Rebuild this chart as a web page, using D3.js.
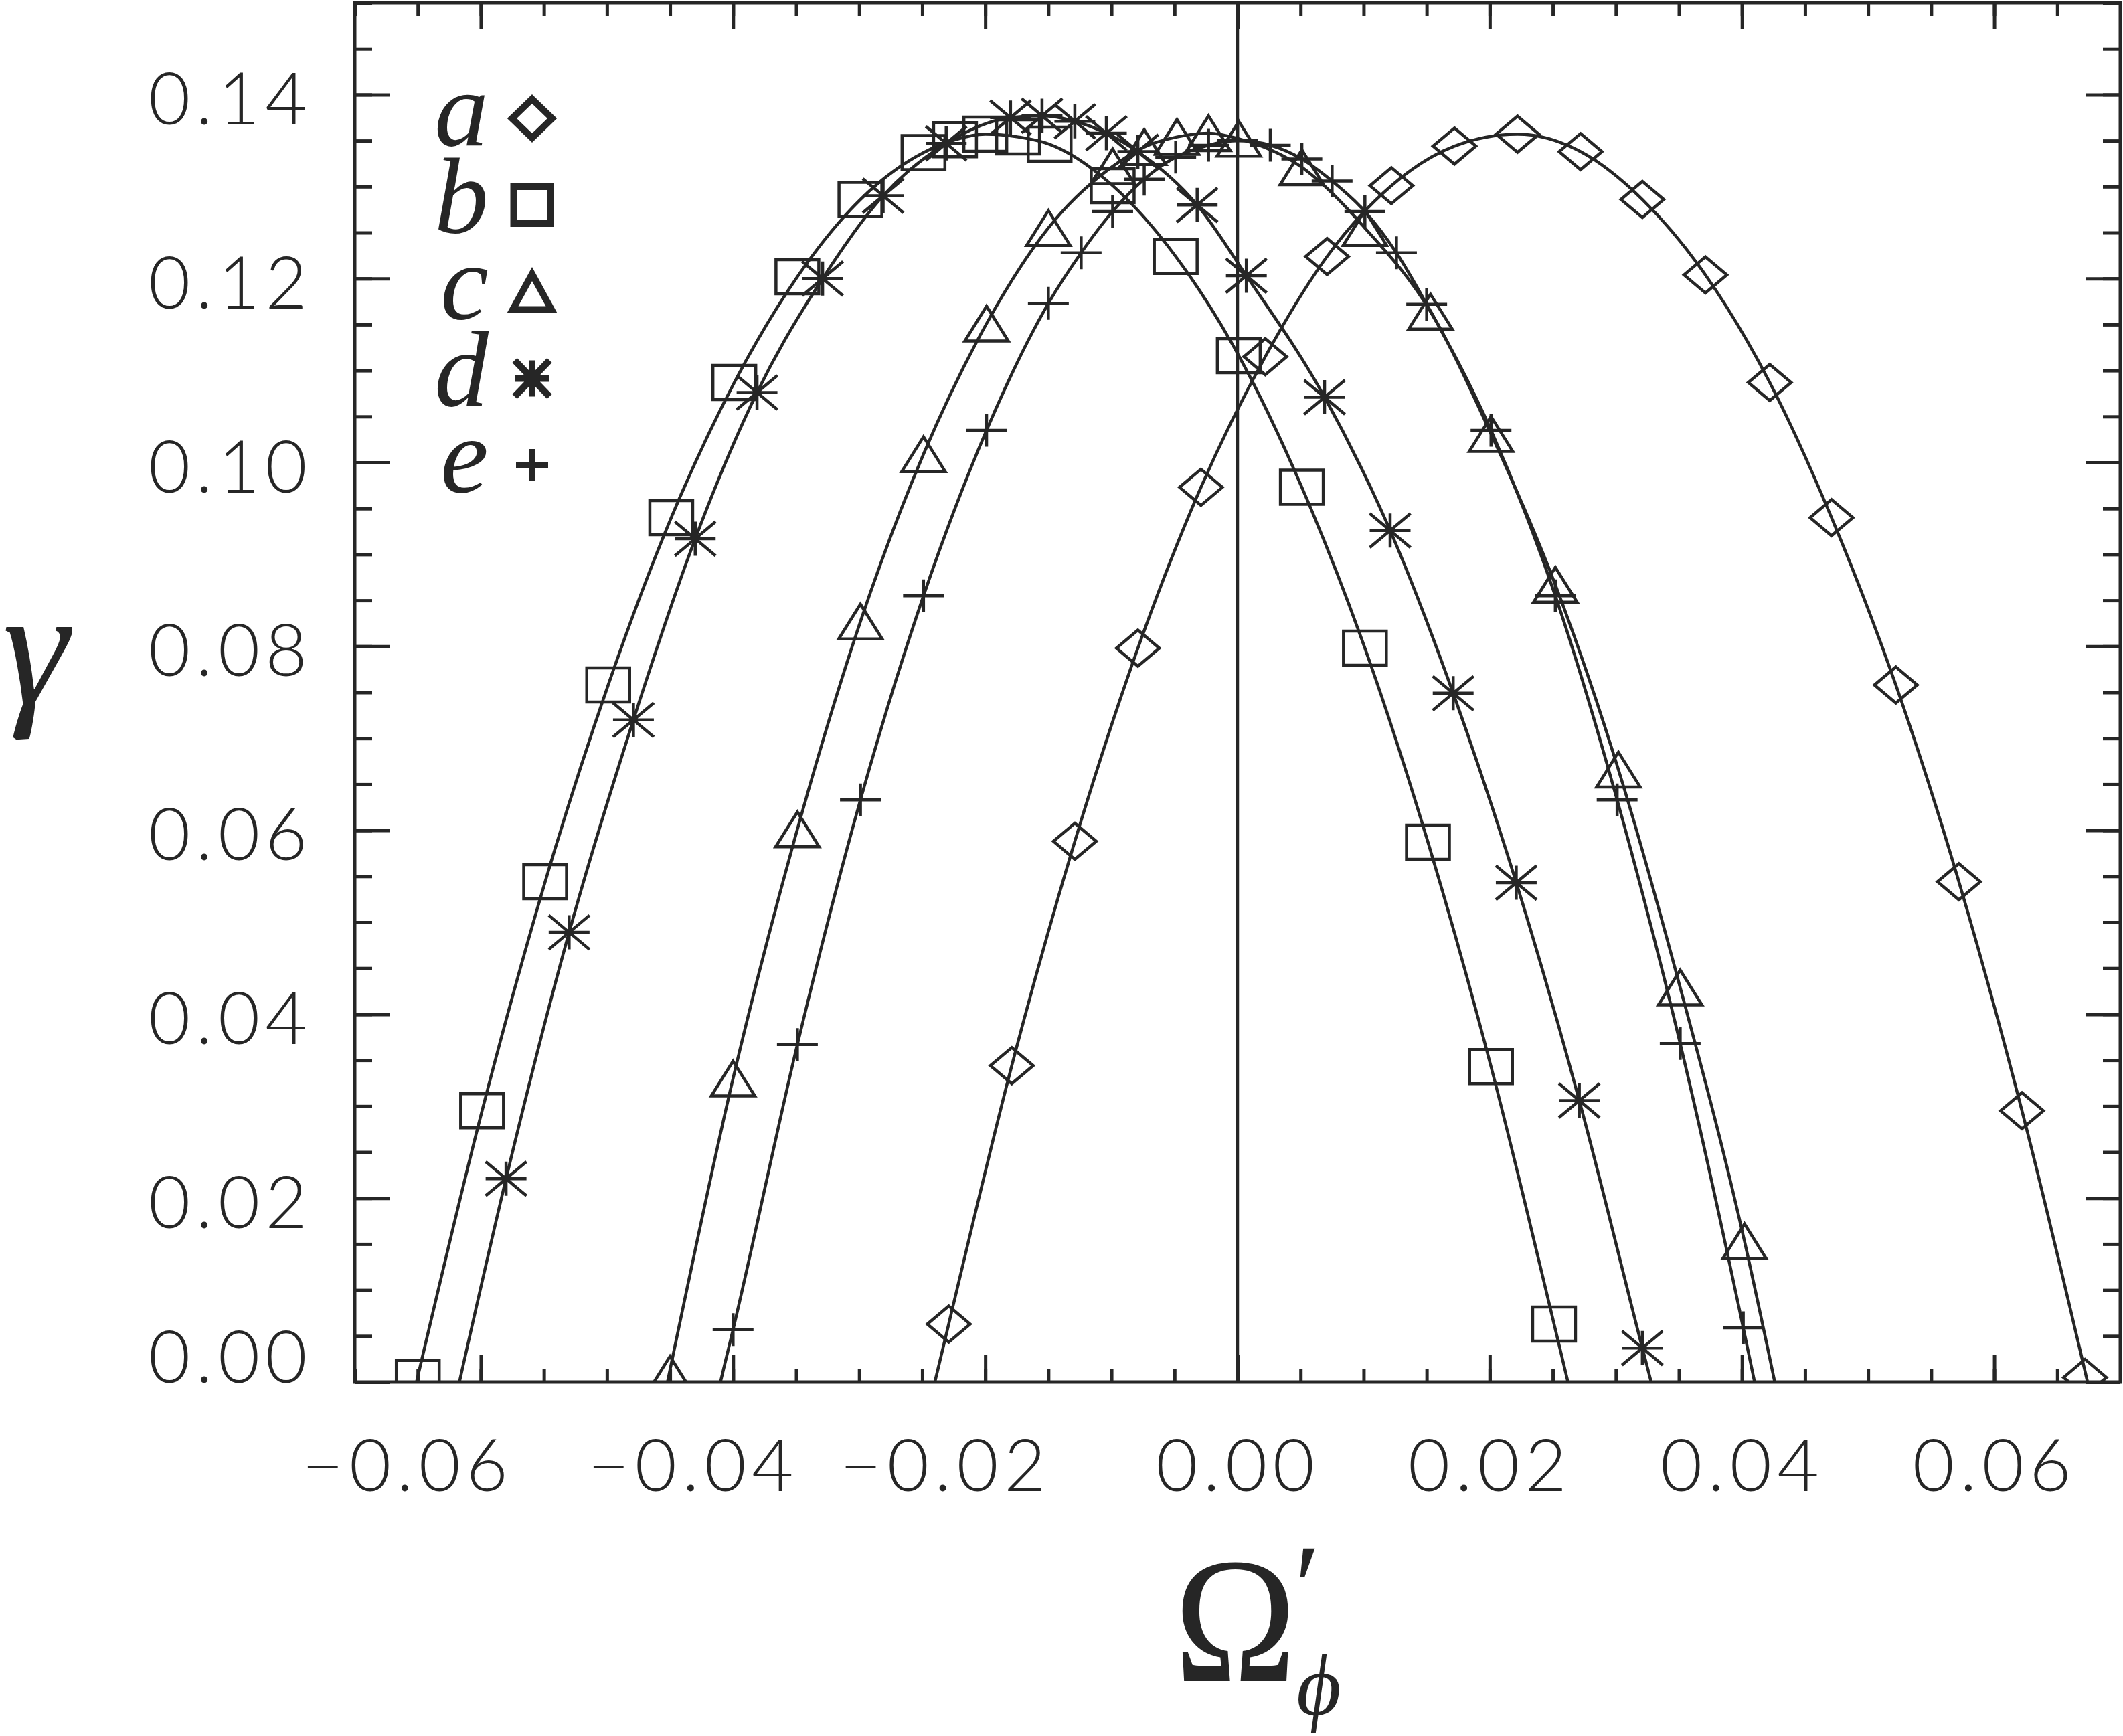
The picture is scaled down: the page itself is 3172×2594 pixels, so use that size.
<!DOCTYPE html>
<html><head><meta charset="utf-8">
<script src="https://cdnjs.cloudflare.com/ajax/libs/d3/7.8.5/d3.min.js"></script>
<style>html,body{margin:0;padding:0;background:#fff;} svg{display:block}
.serif{font-family:"Liberation Serif","Times New Roman",Times,"DejaVu Serif",serif;}
</style>
</head><body>
<svg id="chart" width="3172" height="2594"></svg>
<script>
// ---------------- data ----------------
const seriesNames = ["a", "b", "c", "d", "e"];
const seriesSymbols = ["diamond", "square", "triangle", "asterisk", "plus"];

const aX = [-0.0229, -0.0179, -0.0129, -0.0079, -0.0029, 0.0022, 0.0071, 0.0122, 0.0172, 0.0222, 0.0272, 0.0321, 0.0371, 0.0422, 0.0471, 0.0522, 0.0572, 0.0622, 0.0672];
const aY = [0.0063, 0.0344, 0.0588, 0.0798, 0.0973, 0.1115, 0.1224, 0.1301, 0.1344, 0.1357, 0.1338, 0.1286, 0.1204, 0.1087, 0.0940, 0.0758, 0.0544, 0.0295, 0.0005];
const aEnds = [-0.0240, 0.0674];

const bX = [-0.0650, -0.0599, -0.0549, -0.0499, -0.0449, -0.0399, -0.0349, -0.0299, -0.0249, -0.0224, -0.0200, -0.0174, -0.0149, -0.0099, -0.0049, 0.0001, 0.0051, 0.0101, 0.0151, 0.0201, 0.0251];
const bY = [0.0005, 0.0295, 0.0544, 0.0758, 0.0940, 0.1087, 0.1202, 0.1286, 0.1337, 0.1351, 0.1357, 0.1354, 0.1346, 0.1301, 0.1224, 0.1116, 0.0973, 0.0798, 0.0587, 0.0343, 0.0063];
const bEnds = [-0.0651, 0.0262];

const cX = [-0.0450, -0.0400, -0.0349, -0.0299, -0.0249, -0.0199, -0.0150, -0.0099, -0.0074, -0.0048, -0.0023, 0.0001, 0.0051, 0.0101, 0.0153, 0.0201, 0.0252, 0.0302, 0.0351, 0.0402];
const cY = [0.0009, 0.0330, 0.0601, 0.0827, 0.1009, 0.1151, 0.1255, 0.1322, 0.1343, 0.1354, 0.1358, 0.1352, 0.1321, 0.1255, 0.1164, 0.1031, 0.0867, 0.0666, 0.0429, 0.0153];
const cEnds = [-0.0452, 0.0426];

const dX = [-0.0580, -0.0530, -0.0479, -0.0430, -0.0381, -0.0329, -0.0281, -0.0231, -0.0180, -0.0155, -0.0129, -0.0104, -0.0079, -0.0032, 0.0007, 0.0069, 0.0121, 0.0171, 0.0221, 0.0271, 0.0321];
const dY = [0.0221, 0.0489, 0.0720, 0.0917, 0.1076, 0.1200, 0.1290, 0.1347, 0.1375, 0.1377, 0.1371, 0.1358, 0.1338, 0.1280, 0.1203, 0.1071, 0.0926, 0.0749, 0.0543, 0.0306, 0.0037];
const dEnds = [-0.0617, 0.0328];

const eX = [-0.0400, -0.0349, -0.0299, -0.0249, -0.0199, -0.0150, -0.0124, -0.0099, -0.0074, -0.0049, -0.0023, 0.0000, 0.0026, 0.0051, 0.0075, 0.0101, 0.0126, 0.0150, 0.0201, 0.0252, 0.0301, 0.0351, 0.0401];
const eY = [0.0057, 0.0367, 0.0633, 0.0855, 0.1035, 0.1173, 0.1228, 0.1273, 0.1308, 0.1332, 0.1345, 0.1350, 0.1345, 0.1330, 0.1306, 0.1273, 0.1228, 0.1172, 0.1035, 0.0855, 0.0633, 0.0368, 0.0059];
const eEnds = [-0.0410, 0.0410];

const xDomain = [-0.07, 0.07];
const yDomain = [0, 0.15];
const xTickValues = [-0.06, -0.04, -0.02, 0.00, 0.02, 0.04, 0.06];
const xTickLabels = ["\u22120.06", "\u22120.04", "\u22120.02", "0.00", "0.02", "0.04", "0.06"];
const yTickValues = [0.00, 0.02, 0.04, 0.06, 0.08, 0.10, 0.12, 0.14];
const yTickLabels = ["0.00", "0.02", "0.04", "0.06", "0.08", "0.10", "0.12", "0.14"];

// ---------------- layout ----------------
const W = 3172, H = 2594;
const L = 530, R = 3168, T = 4, B = 2065;
const INK = "#262626";
const svg = d3.select("#chart");
svg.append("rect").attr("width", W).attr("height", H).attr("fill", "#fff");

const x = d3.scaleLinear().domain(xDomain).range([L, R]);
const y = d3.scaleLinear().domain(yDomain).range([B, T]);

svg.append("defs").append("clipPath").attr("id", "plotclip")
  .append("rect").attr("x", L).attr("y", T).attr("width", R - L).attr("height", B - T);

// ---------------- axes ----------------
const xMinor = x.ticks(28);
const yMinor = y.ticks(30);
const XMAJ = 40, XMIN = 20, YMAJ = 52, YMIN = 26;

function styleAxis(g) {
  g.select(".domain").remove();
  g.selectAll(".tick line").attr("stroke", INK).attr("stroke-width", 5);
}
const tickFont = "Lato, 'Open Sans', 'DejaVu Sans', sans-serif";

// bottom
svg.append("g").attr("transform", `translate(0,${B})`)
  .call(d3.axisBottom(x).tickValues(xMinor).tickSizeInner(-XMIN).tickSizeOuter(0).tickFormat(""))
  .call(styleAxis);
const bottomMajor = svg.append("g").attr("transform", `translate(0,${B})`)
  .call(d3.axisBottom(x).tickValues(xTickValues).tickSizeInner(-XMAJ).tickSizeOuter(0)
    .tickFormat((d, i) => xTickLabels[i]))
  .call(styleAxis);
bottomMajor.selectAll(".tick text")
  .attr("y", 163).attr("dy", 0)
  .attr("dx", d => d < -0.05 ? -110 : (d < 0 ? -60 : 0))
  .attr("font-family", tickFont).attr("font-weight", 300).attr("font-size", 108)
  .attr("letter-spacing", "8px").attr("fill", INK);

// top
svg.append("g").attr("transform", `translate(0,${T})`)
  .call(d3.axisTop(x).tickValues(xMinor).tickSizeInner(-XMIN).tickSizeOuter(0).tickFormat(""))
  .call(styleAxis);
svg.append("g").attr("transform", `translate(0,${T})`)
  .call(d3.axisTop(x).tickValues(xTickValues).tickSizeInner(-XMAJ).tickSizeOuter(0).tickFormat(""))
  .call(styleAxis);

// left
svg.append("g").attr("transform", `translate(${L},0)`)
  .call(d3.axisLeft(y).tickValues(yMinor).tickSizeInner(-YMIN).tickSizeOuter(0).tickFormat(""))
  .call(styleAxis);
const leftMajor = svg.append("g").attr("transform", `translate(${L},0)`)
  .call(d3.axisLeft(y).tickValues(yTickValues).tickSizeInner(-YMAJ).tickSizeOuter(0).tickPadding(63)
    .tickFormat((d, i) => yTickLabels[i]))
  .call(styleAxis);
leftMajor.selectAll(".tick text")
  .attr("dy", d => d === 0 ? 0 : 44)
  .attr("font-family", tickFont).attr("font-weight", 300).attr("font-size", 108)
  .attr("letter-spacing", "8px").attr("fill", INK);

// right
svg.append("g").attr("transform", `translate(${R},0)`)
  .call(d3.axisRight(y).tickValues(yMinor).tickSizeInner(-YMIN).tickSizeOuter(0).tickFormat(""))
  .call(styleAxis);
svg.append("g").attr("transform", `translate(${R},0)`)
  .call(d3.axisRight(y).tickValues(yTickValues).tickSizeInner(-YMAJ).tickSizeOuter(0).tickFormat(""))
  .call(styleAxis);

// frame
svg.append("rect").attr("x", L).attr("y", T).attr("width", R - L).attr("height", B - T)
  .attr("fill", "none").attr("stroke", INK).attr("stroke-width", 5);

// zero line
svg.append("line").attr("x1", x(0)).attr("x2", x(0)).attr("y1", y(yDomain[0])).attr("y2", y(yDomain[1]))
  .attr("stroke", INK).attr("stroke-width", 4.5);

// ---------------- symbols ----------------
function symbolPath(kind, w, h) {
  const a = w / 2, b = h / 2;
  switch (kind) {
    case "diamond": return `M0,${-b}L${a},0L0,${b}L${-a},0Z`;
    case "square": return `M${-a},${-b}H${a}V${b}H${-a}Z`;
    case "triangle": return `M0,${-b}L${a},${b}L${-a},${b}Z`;
    case "asterisk": return `M${-a},0H${a}M0,${-b}V${b}M${-a},${-b}L${a},${b}M${-a},${b}L${a},${-b}`;
    case "plus": return `M${-a},0H${a}M0,${-b}V${b}`;
  }
}
const plotSize = {diamond: [64, 54], square: [64, 51], triangle: [65, 52], asterisk: [61, 51], plus: [61, 49]};
const legendSize = {diamond: [60, 58], square: [55, 55], triangle: [58, 53], asterisk: [52, 54], plus: [48, 48]};

const allSeries = [
  {name: "a", xs: aX, ys: aY, ends: aEnds},
  {name: "b", xs: bX, ys: bY, ends: bEnds},
  {name: "c", xs: cX, ys: cY, ends: cEnds},
  {name: "d", xs: dX, ys: dY, ends: dEnds},
  {name: "e", xs: eX, ys: eY, ends: eEnds}
];

const plotG = svg.append("g").attr("clip-path", "url(#plotclip)");
const line = d3.line().x(p => x(p[0])).y(p => y(p[1])).curve(d3.curveMonotoneX);

allSeries.forEach((s, i) => {
  const pts = s.xs.map((v, k) => [v, s.ys[k]]);
  const linePts = [[s.ends[0], 0]].concat(pts.filter(p => p[1] > 0.002)).concat([[s.ends[1], 0]]);
  plotG.append("path").attr("d", line(linePts)).attr("fill", "none")
    .attr("stroke", INK).attr("stroke-width", 4.5).attr("stroke-linejoin", "round");
  const kind = seriesSymbols[i];
  const sz = plotSize[kind];
  plotG.append("g").selectAll("path").data(pts).join("path")
    .attr("transform", p => `translate(${x(p[0])},${y(p[1])})`)
    .attr("d", symbolPath(kind, sz[0], sz[1]))
    .attr("fill", "none").attr("stroke", INK).attr("stroke-width", 4.5)
    .attr("stroke-linejoin", "miter");
});

// ---------------- legend ----------------
const legendG = svg.append("g");
seriesNames.forEach((n, i) => {
  const cy = 177 + i * 129.5;
  legendG.append("text").attr("class", "serif").attr("x", 730).attr("y", cy + 40)
    .attr("text-anchor", "end")
    .attr("font-style", "italic").attr("font-size", 162).attr("fill", INK)
    .text(n);
  const kind = seriesSymbols[i];
  const sz = legendSize[kind];
  legendG.append("path").attr("transform", `translate(795,${cy})`)
    .attr("d", symbolPath(kind, sz[0], sz[1]))
    .attr("fill", "none").attr("stroke", INK).attr("stroke-width", 10)
    .attr("stroke-linejoin", "miter");
});

// ---------------- axis titles ----------------
svg.append("text").attr("class", "serif").attr("x", 4).attr("y", 1052)
  .attr("font-style", "italic").attr("font-size", 250).attr("fill", INK)
  .text("\u03b3");

svg.append("text").attr("class", "serif").attr("transform", "translate(1754,2512) scale(0.92,1)")
  .attr("font-size", 268).attr("fill", INK)
  .text("\u03a9");
svg.append("text").attr("class", "serif").attr("x", 1934).attr("y", 2432)
  .attr("font-size", 180).attr("fill", INK)
  .text("\u2032");
svg.append("text").attr("class", "serif").attr("transform", "translate(1932,2562) skewX(-8)")
  .attr("font-size", 130).attr("fill", INK)
  .text("\u03d5");
</script>
</body></html>
